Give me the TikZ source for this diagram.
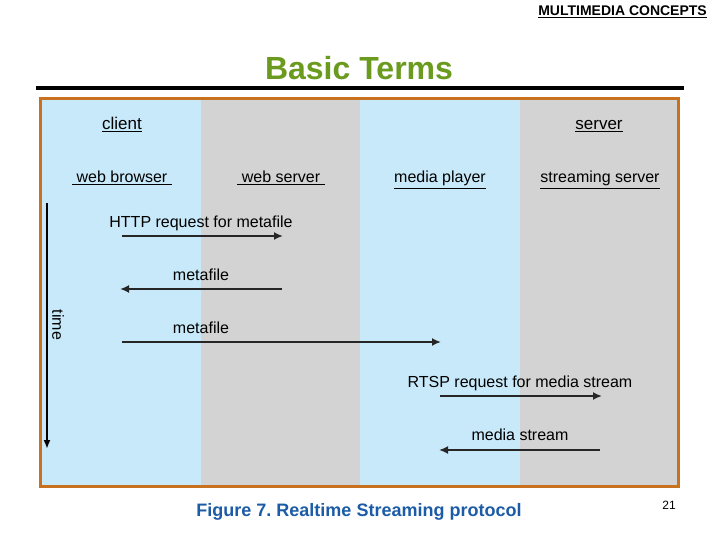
\documentclass[tikz,border=0pt]{standalone}
\usepackage{fontspec}
\setmainfont{Liberation Sans}
\usepackage{xcolor}
\usetikzlibrary{arrows.meta, positioning}

\definecolor{laneblue}{HTML}{C8E9F9}
\definecolor{lanegray}{HTML}{D3D3D3}
\definecolor{frameorange}{HTML}{C8711E}
\definecolor{titlegreen}{HTML}{6A9A1E}
\definecolor{captionblue}{HTML}{1C5BA6}

\frenchspacing
\begin{document}
\begin{tikzpicture}[x=1pt, y=-1pt,
    header/.style={font=\fontsize{17}{19}\selectfont, inner sep=1pt, anchor=base},
    role/.style={font=\fontsize{16}{18}\selectfont, inner sep=1pt, anchor=base},
    msg/.style={font=\fontsize{16}{18}\selectfont, inner sep=1pt, anchor=base},
    arrow/.style={-{Latex[length=9pt, width=8pt]}, line width=2.4pt, draw=black!85},
    timearrow/.style={-{Latex[length=9pt, width=7pt]}, line width=2.4pt}
]
    \useasboundingbox (0,0) rectangle (720,540);

    % Slide header
    \node[font=\bfseries\fontsize{14}{16}\selectfont, anchor=east, inner sep=0pt] (topic) at (707,12) {\underline{MULTIMEDIA CONCEPTS}};
    \node[font=\bfseries\fontsize{32}{36}\selectfont, text=titlegreen, inner sep=0pt] (title) at (359,68) {Basic Terms};
    \draw[line width=3.5pt] (36,88) -- (684,88);

    % Lanes
    \fill[laneblue] (42,100) rectangle (201,485);
    \fill[lanegray] (201,100) rectangle (360,485);
    \fill[laneblue] (360,100) rectangle (520,485);
    \fill[lanegray] (520,100) rectangle (677,485);
    \draw[frameorange, line width=3pt] (40.5,98.5) rectangle (678.5,486.5);

    % Roles
    \node[header] (client) at (122,130) {\underline{client}};
    \node[header] (server) at (599,130) {\underline{server}};
    \node[role] (browser) at (122,183) {\underline{\ web browser\ }};
    \node[role] (webserver) at (281,183) {\underline{\ web server\ }};
    \node[role] (player) at (440,183) {\underline{media player}};
    \node[role] (streamer) at (600,183) {\underline{streaming server}};

    % Time axis
    \coordinate (t0) at (47,203);
    \coordinate (t1) at (47,449);
    \draw[timearrow] (t0) -- (t1);
    \node[font=\fontsize{16}{18}\selectfont, rotate=-90] (time) at (58,325) {time};

    % Message end points
    \coordinate (b1) at (122,236);
    \coordinate (w1) at (283,236);
    \coordinate (w2) at (282,289);
    \coordinate (b2) at (120,289);
    \coordinate (b3) at (122,342);
    \coordinate (p3) at (441,342);
    \coordinate (p4) at (440,396);
    \coordinate (s4) at (602,396);
    \coordinate (s5) at (600,450);
    \coordinate (p5) at (439,450);

    % Messages
    \draw[arrow] (b1) -- (w1);
    \node[msg] (httpreq) at (201,227) {HTTP request for metafile};
    \draw[arrow] (w2) -- (b2);
    \node[msg] (meta1) at (201,280) {metafile};
    \draw[arrow] (b3) -- (p3);
    \node[msg] (meta2) at (201,333) {metafile};
    \draw[arrow] (p4) -- (s4);
    \node[msg] (rtspreq) at (520,387) {RTSP request for media stream};
    \draw[arrow] (s5) -- (p5);
    \node[msg] (stream) at (520,440) {media stream};

    % Caption and page number
    \node[font=\bfseries\fontsize{18}{20}\selectfont, text=captionblue] (caption) at (359,512) {Figure 7. Realtime Streaming protocol};
    \node[font=\fontsize{12}{14}\selectfont] (page) at (669,505) {21};
\end{tikzpicture}
\end{document}
